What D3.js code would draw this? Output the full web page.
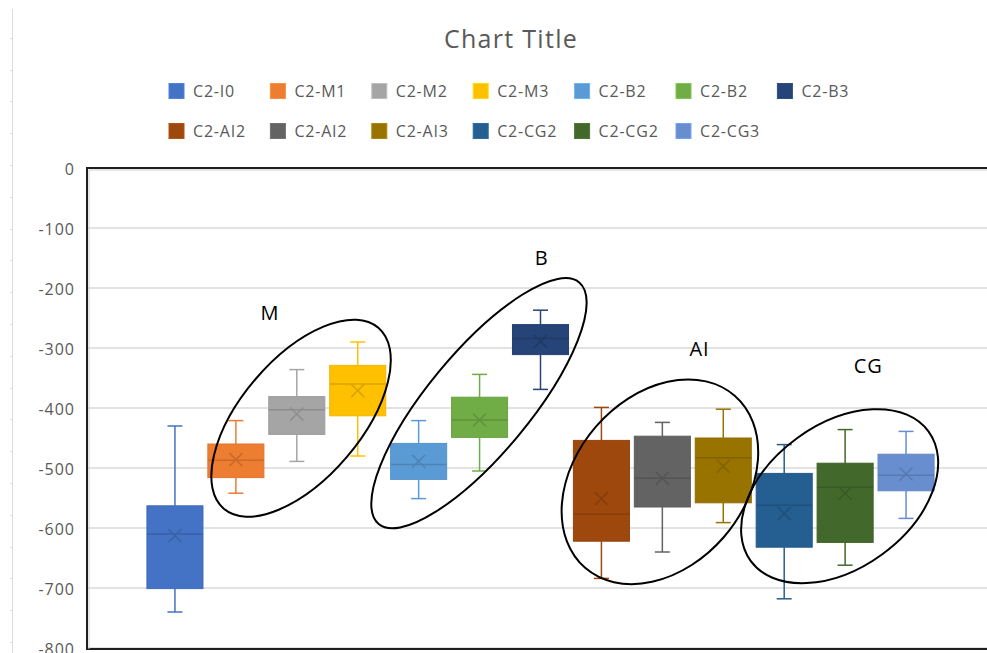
<!DOCTYPE html>
<html>
<head>
<meta charset="utf-8">
<script src="https://cdn.jsdelivr.net/npm/d3@7"></script>
<style>
  html, body { margin: 0; padding: 0; background: #ffffff; overflow: hidden; }
  svg { display: block; font-family: "Segoe UI", "Open Sans", "Noto Sans", sans-serif; }
</style>
</head>
<body>
<svg id="chart" width="987" height="653"></svg>
<script>
// ---- data ----
const series = ["C2-I0","C2-M1","C2-M2","C2-M3","C2-B2","C2-B2","C2-B3","C2-AI2","C2-AI2","C2-AI3","C2-CG2","C2-CG2","C2-CG3"];
const colors = ["#4472C4","#ED7D31","#A5A5A5","#FFC000","#5B9BD5","#70AD47","#264478","#9E480E","#636363","#997300","#255E91","#43682B","#698ED0"];
const whiskerLow  = [-740,-542,-489,-480,-551,-505,-369,-684,-640,-591,-718,-662,-584];
const q1          = [-701,-516,-444,-413,-519,-449,-311,-622,-565,-558,-632,-624,-538];
const median      = [-610,-487,-403,-360,-494,-420,-284,-577,-517,-483,-562,-532,-512];
const q3          = [-563,-460,-381,-329,-459,-382,-261,-454,-447,-450,-509,-492,-477];
const whiskerHigh = [-430,-421,-336,-290,-421,-344,-237,-399,-424,-402,-461,-436,-439];
const mean        = [-613,-486,-410,-371,-489,-420,-289,-551,-517,-497,-576,-542,-510];
const yTicks = [0,-100,-200,-300,-400,-500,-600,-700,-800];
const title = "Chart Title";
// group annotations: label, ellipse centre (series index, value), label anchor
const groupLabels = ["M","B","AI","CG"];
const groupCentreIndex = [2.07, 4.99, 7.96, 10.91];
const groupCentreValue = [-417, -392, -523, -547];
const groupLabelIndex = [1.56, 6.02, 8.61, 11.38];
const groupLabelValue = [-242, -149, -302, -330];

// ---- layout ----
const svg = d3.select("#chart");
const plot = {left: 87, top: 168, right: 995, bottom: 649};

const y = d3.scaleLinear().domain([-800, 0]).range([648, 168]);
const x = d3.scaleBand().domain(d3.range(series.length))
  .range([86, 995]).paddingInner(0.08).paddingOuter(1.0);
const step = x.step();
const xc = i => x(0) + x.bandwidth()/2 + i*step;

// faint spreadsheet edge on the far left
const edge = svg.append("g");
edge.append("line").attr("x1",12.5).attr("x2",12.5).attr("y1",9).attr("y2",653)
  .attr("stroke","#dcdcdc").attr("stroke-width",1);
d3.range(37.7, 653, 31.8).forEach(t => {
  edge.append("line").attr("x1",10).attr("x2",12.5).attr("y1",Math.round(t)+0.5).attr("y2",Math.round(t)+0.5)
    .attr("stroke","#dcdcdc").attr("stroke-width",1);
});

// title
svg.append("text").attr("x", 511).attr("y", 48).attr("text-anchor","middle")
  .attr("font-size", 25).attr("letter-spacing", 1.3).attr("fill","#595959").text(title);

// legend
const legend = svg.append("g");
series.forEach((s, i) => {
  const col = i % 7, row = Math.floor(i / 7);
  const lx = 169 + col*101.4, ly = 91 + row*40;
  legend.append("rect").attr("x", lx).attr("y", ly - 7.5).attr("width", 15).attr("height", 15)
    .attr("fill", colors[i]).attr("stroke", d3.color(colors[i]).brighter(0.4)).attr("stroke-width", 1);
  legend.append("text").attr("x", lx + 24).attr("y", ly).attr("dy","0.36em")
    .attr("font-size", 16).attr("letter-spacing", 0.8).attr("fill","#595959").text(s);
});

// gridlines
svg.append("g").selectAll("line").data(yTicks.filter(d => d !== 0)).join("line")
  .attr("x1", plot.left).attr("x2", plot.right)
  .attr("y1", d => y(d)).attr("y2", d => y(d))
  .attr("stroke","#d9d9d9").attr("stroke-width",1.5);

// y axis labels
svg.append("g").selectAll("text").data(yTicks).join("text")
  .attr("x", 75).attr("y", d => y(d) + 1.5).attr("dy","0.36em")
  .attr("text-anchor","end").attr("font-size", 16).attr("letter-spacing", 1).attr("fill","#595959")
  .text(d => d3.format("d")(d).replace("−","-"));

// plot frame
svg.append("rect").attr("x", plot.left).attr("y", plot.top)
  .attr("width", plot.right - plot.left).attr("height", plot.bottom - plot.top)
  .attr("fill","none").attr("stroke","#1f1f1f").attr("stroke-width",2);
svg.append("line").attr("x1", plot.left+2).attr("x2", plot.right).attr("y1", plot.top+2).attr("y2", plot.top+2)
  .attr("stroke","#cfcfcf").attr("stroke-width",1);
svg.append("line").attr("x1", plot.left+2).attr("x2", plot.left+2).attr("y1", plot.top+2).attr("y2", plot.bottom)
  .attr("stroke","#cfcfcf").attr("stroke-width",1);

// boxes
const boxes = svg.append("g");
const capW = 15, xHalf = 6.5;
series.forEach((s, i) => {
  const c = colors[i], dark = d3.color(c).darker(0.45).formatHex();
  const cx = xc(i), bw = x.bandwidth();
  const g = boxes.append("g");
  g.append("line").attr("x1",cx).attr("x2",cx).attr("y1",y(whiskerHigh[i])).attr("y2",y(q3[i]))
    .attr("stroke",c).attr("stroke-width",1.5);
  g.append("line").attr("x1",cx).attr("x2",cx).attr("y1",y(q1[i])).attr("y2",y(whiskerLow[i]))
    .attr("stroke",c).attr("stroke-width",1.5);
  [whiskerHigh[i], whiskerLow[i]].forEach(v => {
    g.append("line").attr("x1",cx-capW/2).attr("x2",cx+capW/2).attr("y1",y(v)).attr("y2",y(v))
      .attr("stroke",c).attr("stroke-width",1.5);
  });
  g.append("rect").attr("x", cx - bw/2).attr("y", y(q3[i]))
    .attr("width", bw).attr("height", y(q1[i]) - y(q3[i]))
    .attr("fill", c).attr("stroke", d3.color(c).darker(0.15)).attr("stroke-width",1);
  g.append("line").attr("x1",cx-bw/2).attr("x2",cx+bw/2).attr("y1",y(median[i])).attr("y2",y(median[i]))
    .attr("stroke",dark).attr("stroke-width",1.5);
  const my = y(mean[i]);
  g.append("path").attr("d",`M${cx-xHalf},${my-xHalf}L${cx+xHalf},${my+xHalf}M${cx-xHalf},${my+xHalf}L${cx+xHalf},${my-xHalf}`)
    .attr("stroke",dark).attr("stroke-width",1.5).attr("fill","none");
});

// group ellipses and labels
const ellRx = [119, 157, 114, 110];
const ellRy = [60, 51, 84.5, 72];
const ellRot = [-49.5, -50.3, -49, -36];
const ann = svg.append("g");
groupLabels.forEach((lab, k) => {
  const cx = xc(groupCentreIndex[k]), cy = y(groupCentreValue[k]);
  ann.append("ellipse").attr("cx",0).attr("cy",0).attr("rx",ellRx[k]).attr("ry",ellRy[k])
    .attr("transform",`translate(${cx},${cy}) rotate(${ellRot[k]})`)
    .attr("fill","none").attr("stroke","#000").attr("stroke-width",2);
  ann.append("text").attr("x", xc(groupLabelIndex[k])).attr("y", y(groupLabelValue[k]))
    .attr("dy","0.36em").attr("text-anchor","middle").attr("font-size",20).attr("letter-spacing",1).attr("fill","#000").text(lab);
});
</script>
</body>
</html>
